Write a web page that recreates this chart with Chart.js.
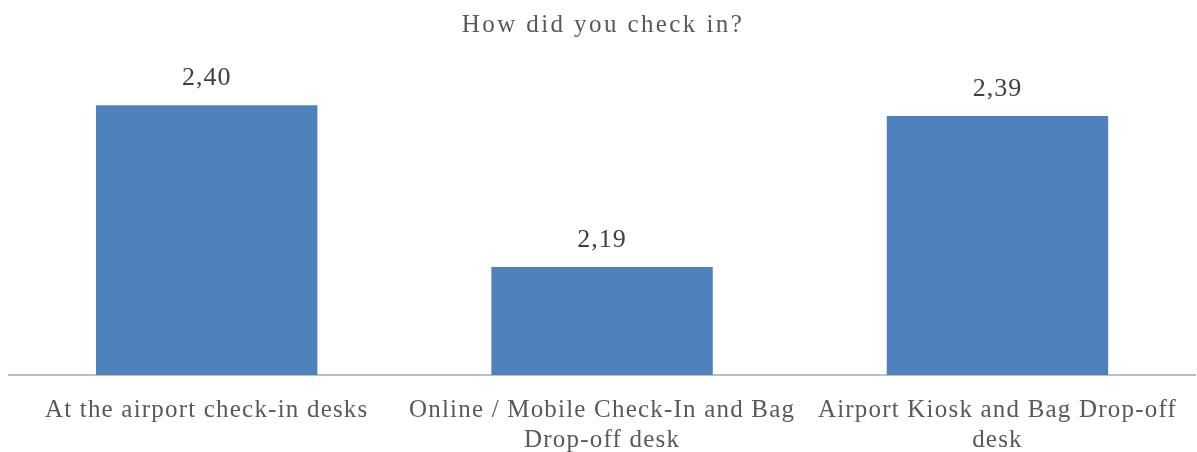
<!DOCTYPE html>
<html>
<head>
<meta charset="utf-8">
<script src="https://cdn.jsdelivr.net/npm/chart.js@4"></script>
<style>
  html, body { margin:0; padding:0; background:#fff; }
  #wrap { width:1197px; height:452px; }
</style>
</head>
<body>
<div id="wrap"><canvas id="chart"></canvas></div>
<script>
const chartTitle = 'How did you check in?';
const categories = [
  ['At the airport check-in desks'],
  ['Online / Mobile Check-In and Bag', 'Drop-off desk'],
  ['Airport Kiosk and Bag Drop-off', 'desk']
];
const values = [2.40, 2.19, 2.386];

const SERIF = '"Liberation Serif", "Times New Roman", serif';

// letter spacing like the Office renderer
const spacing = {
  id: 'spacing',
  beforeLayout(chart) { chart.ctx.letterSpacing = '1.2px'; },
  afterLayout(chart) {
    const t = chart.titleBlock;
    if (t && !t._spaced) {
      const draw = t.draw.bind(t);
      t.draw = function () {
        chart.ctx.save();
        chart.ctx.letterSpacing = '2.4px';
        draw();
        chart.ctx.restore();
      };
      t._spaced = true;
    }
  },
  beforeDraw(chart) { chart.ctx.letterSpacing = '1.2px'; }
};

const valueLabels = {
  id: 'valueLabels',
  afterDatasetsDraw(chart) {
    const ctx = chart.ctx;
    ctx.save();
    ctx.letterSpacing = '1px';
    ctx.font = '26px ' + SERIF;
    ctx.fillStyle = '#404040';
    ctx.textAlign = 'center';
    ctx.textBaseline = 'middle';
    chart.getDatasetMeta(0).data.forEach((bar, i) => {
      ctx.fillText(values[i].toFixed(2).replace('.', ','), bar.x, bar.y - 27);
    });
    ctx.restore();
  }
};

const ctx = document.getElementById('chart').getContext('2d');
new Chart(ctx, {
  type: 'bar',
  data: {
    labels: categories,
    datasets: [{ data: values, backgroundColor: '#4f81bd', barPercentage: 0.56, categoryPercentage: 1 }]
  },
  options: {
    animation: false, responsive: true, maintainAspectRatio: false,
    layout: { padding: { left: 9, right: 0, top: 0, bottom: 0 } },
    plugins: {
      legend: { display: false },
      tooltip: { enabled: false },
      title: {
        display: true, text: chartTitle, color: '#595959',
        font: { family: SERIF, size: 25, weight: 'normal', lineHeight: 1.2 },
        padding: { top: 10, bottom: 20 }
      }
    },
    scales: {
      x: {
        grid: { display: false, drawTicks: false },
        border: { display: true, color: '#bfbfbf', width: 2 },
        ticks: { color: '#595959', padding: 20, maxRotation: 0, autoSkip: false,
                 font: { family: SERIF, size: 25, lineHeight: 1.2 } },
        afterFit(scale) { scale.height = 77; }
      },
      y: { display: false, min: 2.05, max: 2.4586 }
    }
  },
  plugins: [spacing, valueLabels]
});
</script>
</body>
</html>
